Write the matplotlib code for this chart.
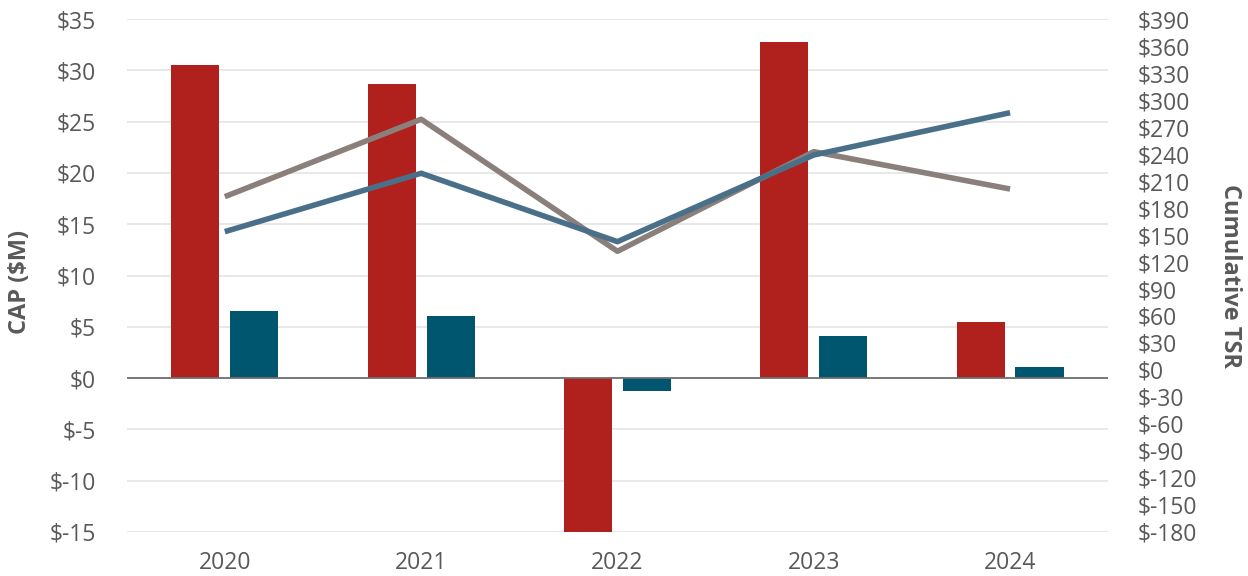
import matplotlib.pyplot as plt
import numpy as np

# Data
years = ["2020", "2021", "2022", "2023", "2024"]
cap_peo = [30.5, 28.7, -15.0, 32.8, 5.5]       # red bars, left axis ($M)
cap_neo = [6.5, 6.1, -1.3, 4.1, 1.05]          # teal bars, left axis ($M)
tsr_company = [192.6, 278.6, 131.9, 242.6, 201.1]  # gray line, right axis
tsr_peer = [153.7, 218.6, 142.6, 238.9, 285.9]     # blue line, right axis

left_ticks = np.arange(-15, 36, 5)
right_ticks = np.arange(-180, 391, 30)

RED = "#B0201C"
TEAL = "#00566E"
GRAY = "#8A7F7A"
BLUE = "#4A7089"
TEXT = "#595959"

plt.rcParams['font.family'] = ['Open Sans', 'DejaVu Sans']

fig = plt.figure(figsize=(12.48, 5.76), dpi=100)
ax = fig.add_axes([0.1015, 0.0764, 0.7865, 0.8906])
ax2 = ax.twinx()

x = np.arange(len(years))
w = 0.245
ax.bar(x - 0.15, cap_peo, width=w, color=RED, zorder=2)
ax.bar(x + 0.15, cap_neo, width=w, color=TEAL, zorder=2)
ax.axhline(0, color="#707070", lw=1.3, zorder=3)

ax.set_xlim(-0.5, 4.5)
ax.set_ylim(-15, 35)
ax.set_yticks(left_ticks)
ax.set_yticklabels([f"${v}" for v in left_ticks])
ax.set_xticks(x)
ax.set_xticklabels(years)
ax.grid(axis="y", color="#E6E6E6", lw=1.3, zorder=0)
ax.set_axisbelow(True)

ax2.plot(x, tsr_company, color=GRAY, lw=4, solid_capstyle="butt", zorder=4)
ax2.plot(x, tsr_peer, color=BLUE, lw=4, solid_capstyle="butt", zorder=5)
ax2.set_ylim(-180, 390)
ax2.set_yticks(right_ticks)
ax2.set_yticklabels([f"${v}" for v in right_ticks])

for a in (ax, ax2):
    for s in a.spines.values():
        s.set_visible(False)
    a.tick_params(length=0, labelsize=16.5, colors=TEXT)
ax.tick_params(axis="y", pad=22)
ax.tick_params(axis="x", pad=14)
ax2.tick_params(axis="y", pad=21)

# axis titles
fig.text(0.016, 0.51, "CAP ($M)", fontsize=17, fontweight="bold", color=TEXT,
         rotation=90, ha="center", va="center")
fig.text(0.9855, 0.521, "Cumulative TSR", fontsize=17, fontweight="bold", color=TEXT,
         rotation=270, ha="center", va="center")

fig.savefig("out.png", dpi=100)
